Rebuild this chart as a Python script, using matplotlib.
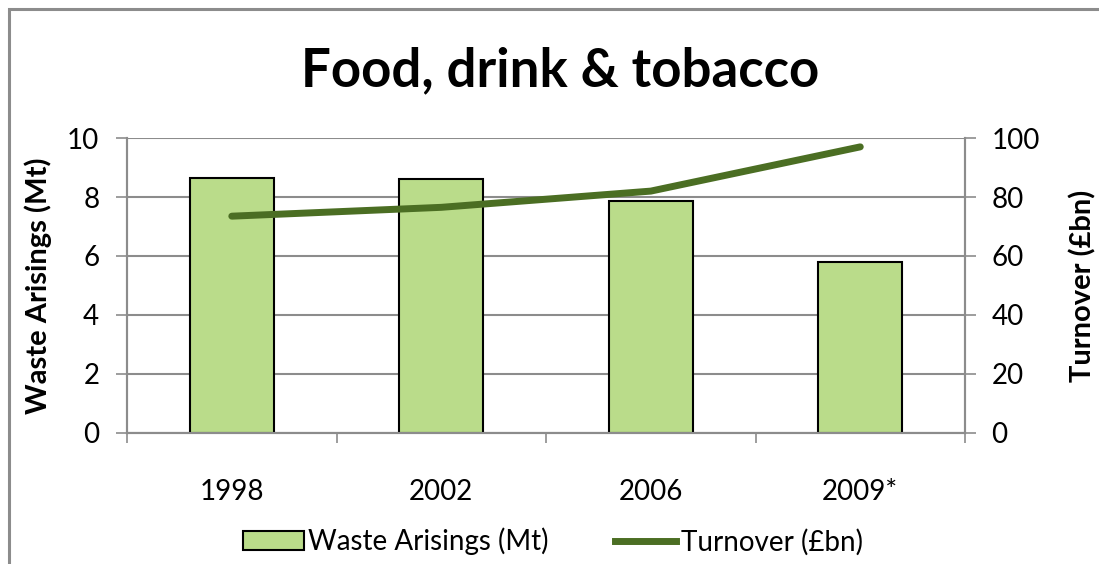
import matplotlib.pyplot as plt
from matplotlib.patches import Rectangle
from matplotlib.lines import Line2D

# Data
years = ['1998', '2002', '2006', '2009*']
waste_mt = [8.65, 8.6, 7.85, 5.78]
turnover_bn = [73.5, 76.5, 82.0, 97.0]

BAR_GREEN = '#badc8a'
LINE_GREEN = '#4b6e23'
GRID = '#8c8c8c'

plt.rcParams['font.family'] = ['Lato', 'DejaVu Sans']

fig = plt.figure(figsize=(10.99, 5.64), dpi=100)
ax = fig.add_axes([0.1156, 0.2323, 0.7625, 0.523])
ax2 = ax.twinx()

x = list(range(len(years)))
ax.bar(x, waste_mt, width=0.4, color=BAR_GREEN, edgecolor='black', linewidth=1.5, zorder=3)
ax2.plot(x, turnover_bn, color=LINE_GREEN, linewidth=5, solid_capstyle='round', zorder=4)

ax.set_xlim(-0.5, len(years) - 0.5)
ax.set_ylim(0, 10)
ax2.set_ylim(0, 100)
ax.set_yticks(range(0, 11, 2))
ax2.set_yticks(range(0, 101, 20))

# categories between the ticks, ticks on the boundaries
ax.set_xticks([i - 0.5 for i in range(len(years) + 1)])
ax.set_xticklabels([])
ax.set_xticks(x, minor=True)
ax.set_xticklabels(years, minor=True)
ax.tick_params(axis='x', which='minor', length=0, pad=33, labelsize=20)
ax.tick_params(axis='x', which='major', length=7, color=GRID, width=1.2)

ax.tick_params(axis='y', length=8, color=GRID, width=1.2, pad=12, labelsize=20)
ax2.tick_params(axis='y', length=8, color=GRID, width=1.2, pad=11, labelsize=20)

ax.grid(axis='y', color=GRID, linewidth=1.5, zorder=0)
ax.set_axisbelow(True)
for a in (ax, ax2):
    a.spines['top'].set_visible(False)
    for s in ('left', 'right', 'bottom'):
        a.spines[s].set_color(GRID)
        a.spines[s].set_linewidth(1.5)
ax.set_zorder(1)
ax2.set_zorder(2)
ax2.patch.set_visible(False)

ax.set_ylabel('Waste Arisings (Mt)', fontsize=21, fontweight='bold', labelpad=11)
ax2.set_ylabel('Turnover (£bn)', fontsize=21, fontweight='bold', labelpad=21)

fig.text(0.51, 0.875, 'Food, drink & tobacco', ha='center', va='center',
         fontsize=38, fontweight='bold')

handles = [Rectangle((0, 0), 1, 1, facecolor=BAR_GREEN, edgecolor='black', linewidth=1.5),
           Line2D([], [], color=LINE_GREEN, linewidth=5)]
fig.legend(handles, ['Waste Arisings (Mt)', 'Turnover (£bn)'], loc='center',
           bbox_to_anchor=(0.503, 0.04), ncol=2, frameon=False, fontsize=20,
           handlelength=2.2, handletextpad=0.15, columnspacing=2.4)

# outer chart frame, cropped at right and bottom
fig.add_artist(Rectangle((9 / 1099, -0.05), 1.1, 1 - 9 / 564 + 0.05,
                         transform=fig.transFigure, fill=False,
                         edgecolor=GRID, linewidth=2.2))

fig.savefig('out.png', dpi=100)
